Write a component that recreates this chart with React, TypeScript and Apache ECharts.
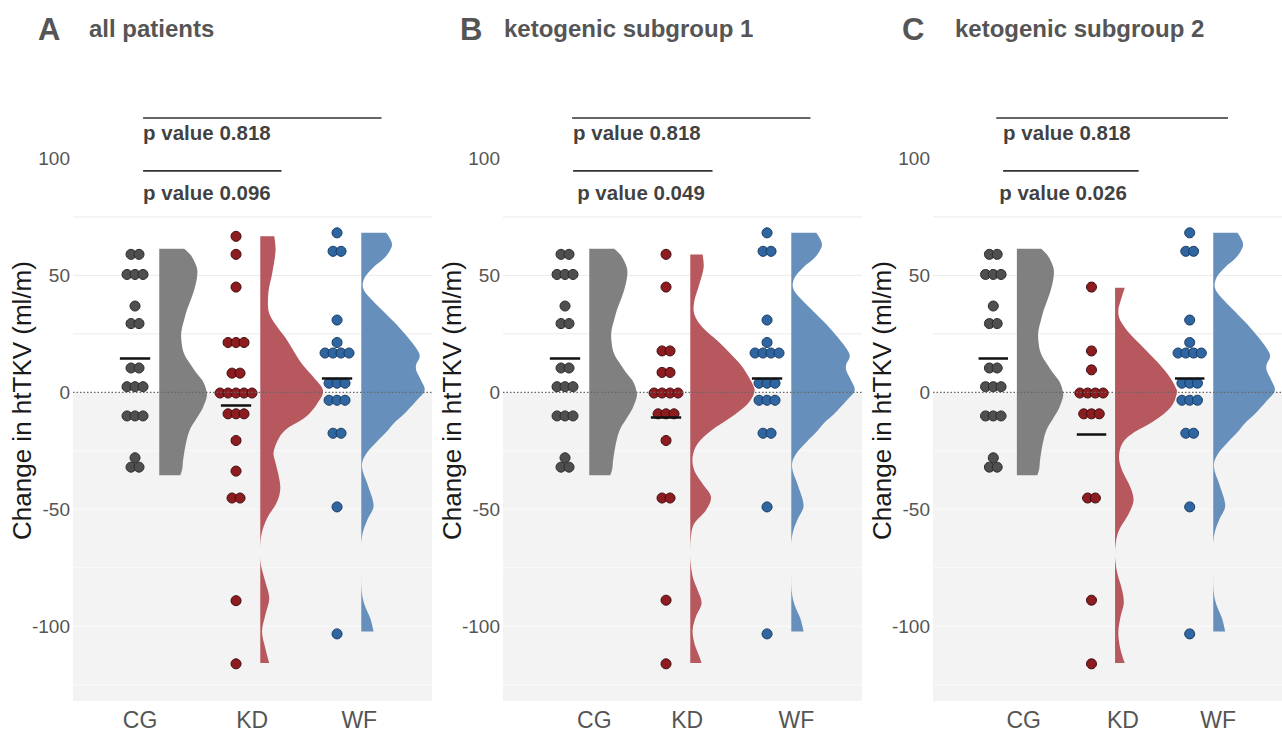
import React, { useEffect, useRef } from "react";
import * as echarts from "echarts";

// ---------- data ----------
const groups = ["CG", "KD", "WF"];
const panelLetters = ["A", "B", "C"];
const panelTitles = ["all patients", "ketogenic subgroup 1", "ketogenic subgroup 2"];
const yTickLabels = [-100, -50, 0, 50, 100];
const gridLineValues = [-125, -100, -75, -50, -25, 25, 50, 75];

const cgValues = [59, 59, 50.4, 50.4, 50.4, 36.9, 29.4, 29.4, 10.4, 10.4, 2.4, 2.4, 2.4, -10.1, -10.1, -10.1, -28, -32, -32];
const wfValues = [68.2, 60.3, 60.3, 30.9, 21.3, 16.8, 16.8, 16.8, 16.8, 3.9, 3.9, 3.9, -3.4, -3.4, -3.4, -17.5, -17.5, -49, -103.3];
const kdValuesAll = [66.7, 59, 45, 21.3, 21.3, 21.3, 8.2, 8.2, -0.3, -0.3, -0.3, -0.3, -0.3, -9.2, -9.2, -9.2, -20.6, -33.7, -45.2, -45.2, -89.1, -116.1];
const kdValuesSub1 = [59, 45, 17.7, 17.7, 8.5, 8.5, -0.3, -0.3, -0.3, -0.3, -9.2, -9.2, -9.2, -20.6, -45.2, -45.2, -88.9, -116.1];
const kdValuesSub2 = [45, 17.7, 9.6, -0.3, -0.3, -0.3, -0.3, -9.2, -9.2, -9.2, -45.2, -45.2, -88.9, -116.1];

const cgMean = 14.5;
const wfMean = 6.1;
const kdMeans = [-5.7, -10.5, -18.1];

// half-violin outlines: [value, width in category units]
const cgDensity = [[61.4, 0.248], [58.9, 0.307], [56.0, 0.347], [52.5, 0.376], [48.3, 0.371], [44.0, 0.347], [39.8, 0.314], [35.6, 0.277], [31.2, 0.248], [25.7, 0.218], [20.6, 0.223], [16.3, 0.248], [12.1, 0.307], [7.8, 0.376], [4.4, 0.436], [0.1, 0.47], [-2.8, 0.465], [-7.1, 0.426], [-11.4, 0.366], [-15.6, 0.307], [-21.2, 0.267], [-28.4, 0.238], [-32.7, 0.228], [-35.5, 0.208]];
const wfDensity = [[68.2, 0.248], [64.6, 0.297], [61.8, 0.297], [57.5, 0.231], [53.3, 0.116], [49.0, 0.033], [44.7, 0.017], [40.5, 0.082], [34.8, 0.215], [29.1, 0.347], [23.4, 0.462], [17.7, 0.561], [14.9, 0.577], [12.1, 0.545], [9.2, 0.545], [4.9, 0.594], [0.7, 0.627], [-3.6, 0.545], [-9.2, 0.426], [-13, 0.327], [-17, 0.248], [-21.3, 0.149], [-25.6, 0.059], [-29.8, 0.01], [-34.1, 0.017], [-39.8, 0.066], [-48.3, 0.122], [-54, 0.066], [-59.6, 0.017], [-65.4, 0], [-75.3, 0], [-85.2, 0.005], [-90.9, 0.033], [-96.6, 0.089], [-102.3, 0.122]];
const kdDensityAll = [[66.7, 0.139], [60.3, 0.151], [50.4, 0.116], [43.3, 0.082], [34.8, 0.082], [29.1, 0.149], [23.4, 0.248], [17.7, 0.33], [12.1, 0.413], [6.4, 0.528], [0.7, 0.621], [-5, 0.561], [-10.7, 0.446], [-15.6, 0.264], [-19.9, 0.181], [-25.6, 0.132], [-29.8, 0.149], [-35.5, 0.181], [-41.2, 0.198], [-46.9, 0.165], [-54, 0.066], [-61.1, 0.01], [-68.2, 0], [-73.9, 0.007], [-81, 0.05], [-88.1, 0.089], [-95.2, 0.05], [-102.3, 0.017], [-109.4, 0.05], [-115.8, 0.089]];
const kdDensitySub1 = [[58.9, 0.122], [53.3, 0.132], [46.1, 0.089], [39.0, 0.04], [33.4, 0.04], [27.7, 0.122], [22.0, 0.27], [16.3, 0.403], [10.7, 0.518], [3.5, 0.617], [0, 0.634], [-5, 0.567], [-10.7, 0.403], [-16.4, 0.205], [-22, 0.072], [-27.7, 0.023], [-33.4, 0.04], [-39.1, 0.122], [-44.7, 0.205], [-50.4, 0.155], [-56.1, 0.04], [-61.8, 0.007], [-70.3, 0], [-78.8, 0.023], [-84.5, 0.072], [-90.2, 0.112], [-95.9, 0.056], [-101.6, 0.023], [-107.2, 0.04], [-112.9, 0.089], [-115.8, 0.112]];
const kdDensitySub2 = [[44.7, 0.099], [39.0, 0.056], [34.8, 0.033], [30.5, 0.056], [24.8, 0.155], [19.2, 0.287], [13.5, 0.419], [7.8, 0.535], [2.1, 0.617], [-0.7, 0.627], [-6.4, 0.567], [-12.1, 0.403], [-17.8, 0.171], [-22, 0.072], [-27.7, 0.04], [-33.4, 0.072], [-40.5, 0.155], [-46.2, 0.188], [-51.9, 0.139], [-59, 0.04], [-64.6, 0.007], [-70.3, 0], [-77.4, 0.023], [-84.5, 0.072], [-90.2, 0.089], [-95.9, 0.056], [-103, 0.033], [-110.1, 0.056], [-115.8, 0.099]];

const pTopTexts = ["p value 0.818", "p value 0.818", "p value 0.818"];
const pBottomTexts = ["p value 0.096", "p value 0.049", "p value 0.026"];

// annotation placement (x in category units, y in data units)
const bracketTopX = [[1.08, 3.44], [1.07, 3.43], [1.03, 3.39]];
const bracketBottomX = [[1.08, 2.45], [1.08, 2.46], [1.1, 2.48]];
const pTopTextX = [1.08, 1.08, 1.1];
const pBottomTextX = [1.08, 1.12, 1.06];
const bracketTopY = 117.3;
const bracketBottomY = 94.7;
const pTopTextY = 110.9;
const pBottomTextY = 85.6;
const xLabelPos = [[1.05, 2.16, 3.22], [1.29, 2.21, 3.29], [1.31, 2.32, 3.29]];

// ---------- layout / style ----------
const PANEL_LEFT = [73, 503, 933];
const PANEL_TOP = 100;
const PANEL_W = 359;
const PANEL_H = 603;
const X_MIN = 0.386;
const X_MAX = 3.94;
const Y_MIN = -132;
const Y_MAX = 125;
const DOT_STEP = 0.079;
const VIOLIN_OFFSET = 0.24;
const FONT = "'Liberation Sans', Arial, Helvetica, sans-serif";

const dotColors = ["#4f4f4f", "#8c1c20", "#2f66a2"];
const dotBorders = ["#2a2a2a", "#3f0b0d", "#173a60"];
const violinColors = ["#808080", "#b6585e", "#6690bb"];

function swarm(values: number[], center: number) {
  const counts: Record<string, number> = {};
  values.forEach((v) => (counts[v] = (counts[v] || 0) + 1));
  const seen: Record<string, number> = {};
  return values.map((v) => {
    const n = counts[v];
    const j = seen[v] || 0;
    seen[v] = j + 1;
    return [center + (j - (n - 1) / 2) * DOT_STEP, v];
  });
}

function smoothSegments(pts: number[][], minX: number) {
  let d = "";
  for (let i = 0; i < pts.length - 1; i++) {
    const p0 = pts[Math.max(0, i - 1)];
    const p1 = pts[i];
    const p2 = pts[i + 1];
    const p3 = pts[Math.min(pts.length - 1, i + 2)];
    const c1x = Math.max(minX, p1[0] + (p2[0] - p0[0]) / 6);
    const c1y = p1[1] + (p2[1] - p0[1]) / 6;
    const c2x = Math.max(minX, p2[0] - (p3[0] - p1[0]) / 6);
    const c2y = p2[1] - (p3[1] - p1[1]) / 6;
    d += ` C${c1x},${c1y} ${c2x},${c2y} ${p2[0]},${p2[1]}`;
  }
  return d;
}

function violinSeries(k: number, center: number, profile: number[][], color: string) {
  return {
    type: "custom",
    xAxisIndex: k,
    yAxisIndex: k,
    z: 2,
    silent: true,
    data: profile.map(([v, w]) => [center + VIOLIN_OFFSET + w, v]),
    renderItem: (params: any, api: any) => {
      if (params.dataIndex !== 0) return null;
      const base = center + VIOLIN_OFFSET;
      const pts = profile.map(([v, w]) => api.coord([base + w, v]));
      const top = api.coord([base, profile[0][0]]);
      const bot = api.coord([base, profile[profile.length - 1][0]]);
      let d = `M${top[0]},${top[1]} L${pts[0][0]},${pts[0][1]}`;
      d += smoothSegments(pts, top[0]);
      d += ` L${bot[0]},${bot[1]} Z`;
      return { type: "path", shape: { pathData: d }, style: { fill: color } };
    },
  };
}

// panel background: grey below zero + gridlines, drawn through the axes' scales
function backgroundSeries(k: number) {
  return {
    type: "custom",
    xAxisIndex: k,
    yAxisIndex: k,
    z: 0,
    silent: true,
    data: [[X_MIN, Y_MIN]],
    renderItem: (params: any, api: any) => {
      const tl = api.coord([X_MIN, 0]);
      const br = api.coord([X_MAX, Y_MIN]);
      const children: any[] = [
        {
          type: "rect",
          shape: { x: tl[0], y: tl[1], width: br[0] - tl[0], height: br[1] - tl[1] },
          style: { fill: "#f3f3f3" },
        },
      ];
      gridLineValues.forEach((v) => {
        const a = api.coord([X_MIN, v]);
        const b = api.coord([X_MAX, v]);
        children.push({
          type: "line",
          shape: { x1: a[0], y1: a[1], x2: b[0], y2: b[1] },
          style: { stroke: v > 0 ? "#ebebeb" : "#fafafa", lineWidth: 1 },
        });
      });
      return { type: "group", children };
    },
  };
}

function zeroLineSeries(k: number) {
  return {
    type: "custom",
    xAxisIndex: k,
    yAxisIndex: k,
    z: 5,
    silent: true,
    data: [[X_MIN, 0]],
    renderItem: (params: any, api: any) => {
      const a = api.coord([X_MIN, 0]);
      const b = api.coord([X_MAX, 0]);
      return {
        type: "line",
        shape: { x1: a[0], y1: a[1], x2: b[0], y2: b[1] },
        style: { stroke: "#666666", lineWidth: 1.2, lineDash: [1.5, 2] },
      };
    },
  };
}

function buildOption() {
  const grid: any[] = [];
  const xAxis: any[] = [];
  const yAxis: any[] = [];
  const series: any[] = [];
  const title: any[] = [];
  const kdSets = [kdValuesAll, kdValuesSub1, kdValuesSub2];
  const kdDens = [kdDensityAll, kdDensitySub1, kdDensitySub2];

  for (let k = 0; k < 3; k++) {
    grid.push({ left: PANEL_LEFT[k], top: PANEL_TOP, width: PANEL_W, height: PANEL_H, show: false, borderWidth: 0 });
    xAxis.push({
      type: "value",
      gridIndex: k,
      min: X_MIN,
      max: X_MAX,
      splitLine: { show: false },
      splitArea: { show: false },
      axisLine: { show: false },
      axisTick: { show: false },
      axisLabel: {
        customValues: xLabelPos[k],
        formatter: (v: number) => groups[Math.round(v) - 1] || "",
        fontSize: 23,
        color: "#555555",
        fontFamily: FONT,
        margin: 7,
      },
    });
    yAxis.push({
      type: "value",
      gridIndex: k,
      min: Y_MIN,
      max: Y_MAX,
      splitLine: { show: false },
      splitArea: { show: false },
      axisLine: { show: false },
      axisTick: { show: false },
      axisLabel: {
        customValues: yTickLabels,
        fontSize: 19,
        color: "#555555",
        fontFamily: FONT,
        margin: 3,
      },
      name: "Change in htTKV (ml/m)",
      nameLocation: "middle",
      nameGap: 38,
      nameMoveOverlap: false,
      nameTextStyle: { fontSize: 26, color: "#1a1a1a", fontFamily: FONT },
    });

    series.push(backgroundSeries(k));

    // violins
    series.push(violinSeries(k, 1, cgDensity, violinColors[0]));
    series.push(violinSeries(k, 2, kdDens[k], violinColors[1]));
    series.push(violinSeries(k, 3, wfDensity, violinColors[2]));

    // dots + mean lines
    const sets = [cgValues, kdSets[k], wfValues];
    const means = [cgMean, kdMeans[k], wfMean];
    sets.forEach((vals, g) => {
      series.push({
        type: "scatter",
        xAxisIndex: k,
        yAxisIndex: k,
        z: 3,
        silent: true,
        symbol: "circle",
        symbolSize: 10,
        itemStyle: { color: dotColors[g], borderColor: dotBorders[g], borderWidth: 1, opacity: 1 },
        data: swarm(vals, g + 1),
        markLine: {
          silent: true,
          symbol: ["none", "none"],
          label: { show: false },
          lineStyle: { color: "#111111", width: 2.5, type: "solid" },
          data: [[{ coord: [g + 1 - 0.15, means[g]] }, { coord: [g + 1 + 0.15, means[g]] }]],
        },
      });
    });

    series.push(zeroLineSeries(k));

    // brackets
    series.push({
      type: "line",
      xAxisIndex: k,
      yAxisIndex: k,
      silent: true,
      symbol: "none",
      lineStyle: { color: "#333333", width: 1.6 },
      data: [[bracketTopX[k][0], bracketTopY], [bracketTopX[k][1], bracketTopY]],
    });
    series.push({
      type: "line",
      xAxisIndex: k,
      yAxisIndex: k,
      silent: true,
      symbol: "none",
      lineStyle: { color: "#333333", width: 1.6 },
      data: [[bracketBottomX[k][0], bracketBottomY], [bracketBottomX[k][1], bracketBottomY]],
    });
    series.push({
      type: "scatter",
      xAxisIndex: k,
      yAxisIndex: k,
      silent: true,
      symbolSize: 0,
      label: {
        show: true,
        position: "right",
        distance: 0,
        fontSize: 20.5,
        fontWeight: "bold",
        color: "#0d0d0d",
        fontFamily: FONT,
        formatter: (p: any) => p.data[2],
      },
      data: [
        [pTopTextX[k], pTopTextY, pTopTexts[k]],
        [pBottomTextX[k], pBottomTextY, pBottomTexts[k]],
      ],
    });
  }

  const letterLeft = [38, 460, 902];
  const subtitleLeft = [89, 504, 955];
  for (let k = 0; k < 3; k++) {
    title.push({
      text: panelLetters[k],
      left: letterLeft[k],
      top: 14,
      padding: 0,
      textStyle: { fontSize: 31, fontWeight: "bold", color: "#555555", fontFamily: FONT },
    });
    title.push({
      text: panelTitles[k],
      left: subtitleLeft[k],
      top: 16,
      padding: 0,
      textStyle: { fontSize: 24, fontWeight: "bold", color: "#555555", fontFamily: FONT },
    });
  }

  return {
    animation: false,
    backgroundColor: "#ffffff",
    textStyle: { fontFamily: FONT },
    title,
    grid,
    xAxis,
    yAxis,
    series,
  };
}

export default function App() {
  const ref = useRef<HTMLDivElement>(null);
  useEffect(() => {
    if (!ref.current) return;
    const chart = echarts.init(ref.current, undefined, { renderer: "svg" });
    chart.setOption(buildOption() as any);
    return () => chart.dispose();
  }, []);
  return (
    <div
      ref={ref}
      style={{ position: "absolute", left: 0, top: 0, width: 1282, height: 731, background: "#fff" }}
    />
  );
}
